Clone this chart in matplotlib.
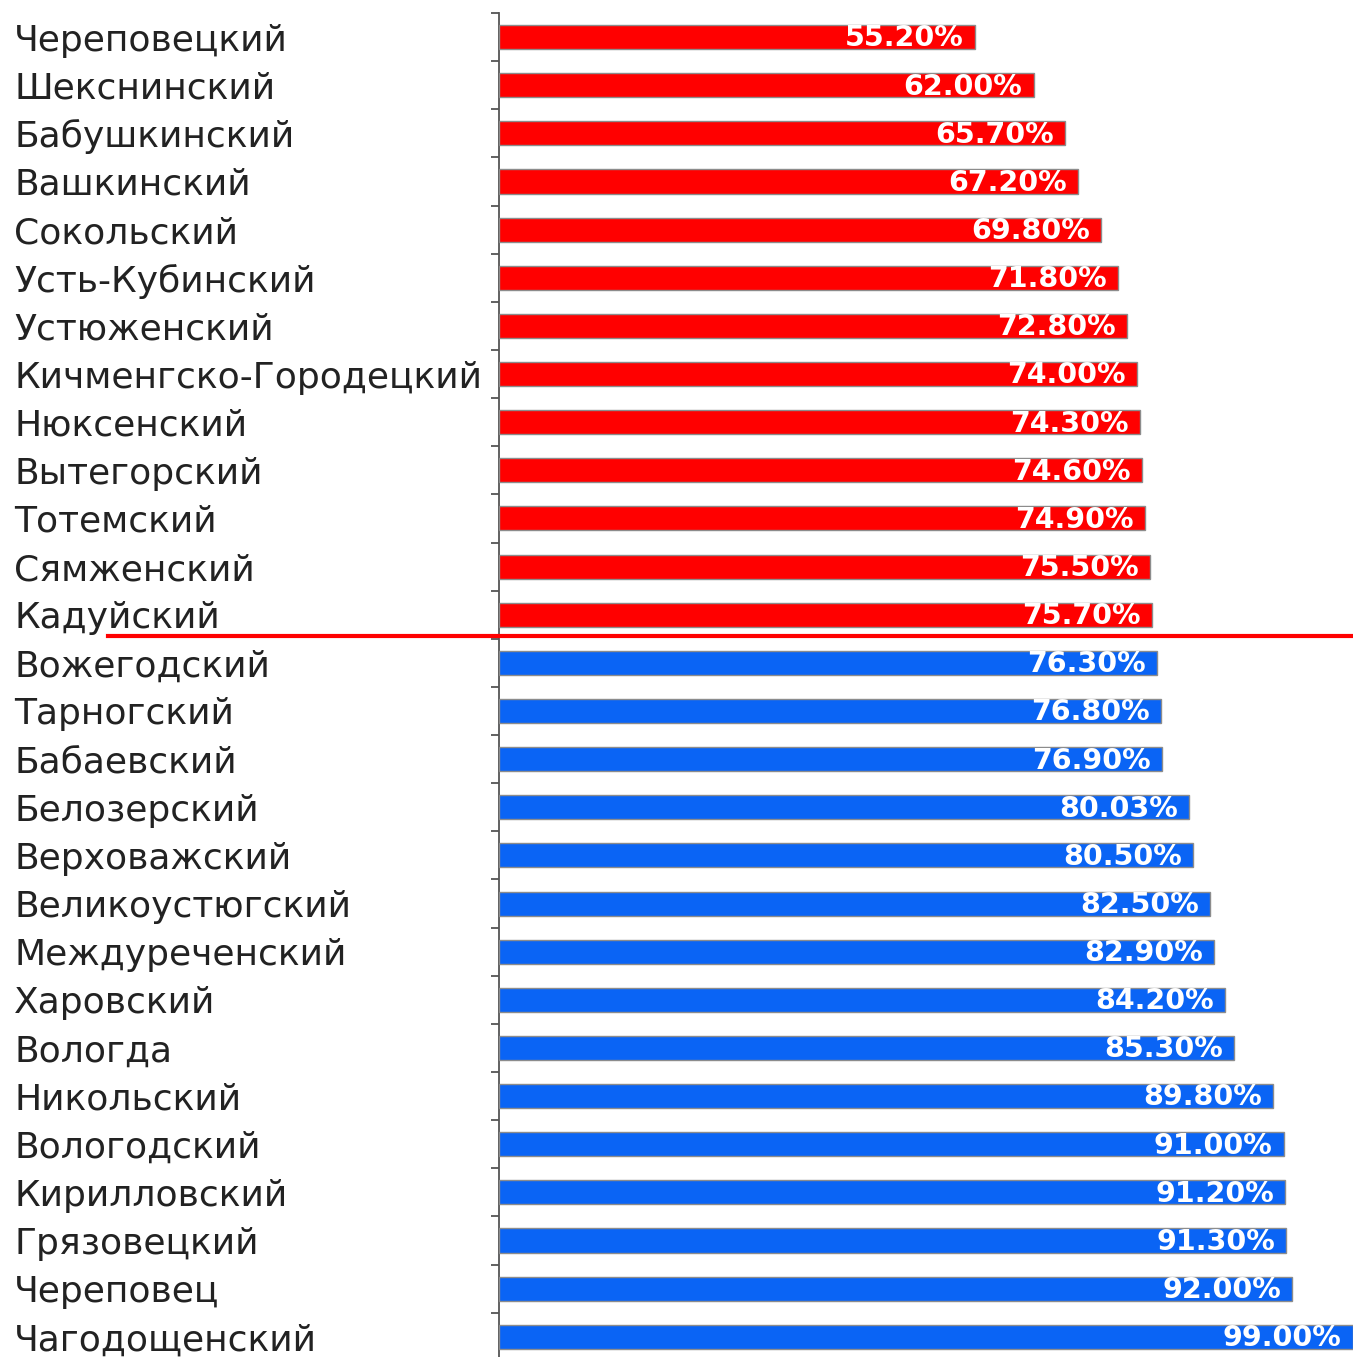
import matplotlib
matplotlib.use("Agg")
import matplotlib.pyplot as plt
from matplotlib.transforms import blended_transform_factory

categories = [
    "Череповецкий", "Шекснинский", "Бабушкинский", "Вашкинский", "Сокольский",
    "Усть-Кубинский", "Устюженский", "Кичменгско-Городецкий", "Нюксенский",
    "Вытегорский", "Тотемский", "Сямженский", "Кадуйский",
    "Вожегодский", "Тарногский", "Бабаевский", "Белозерский", "Верховажский",
    "Великоустюгский", "Междуреченский", "Харовский", "Вологда", "Никольский",
    "Вологодский", "Кирилловский", "Грязовецкий", "Череповец", "Чагодощенский",
]
values = [
    55.20, 62.00, 65.70, 67.20, 69.80, 71.80, 72.80, 74.00, 74.30, 74.60,
    74.90, 75.50, 75.70,
    76.30, 76.80, 76.90, 80.03, 80.50, 82.50, 82.90, 84.20, 85.30, 89.80,
    91.00, 91.20, 91.30, 92.00, 99.00,
]
labels = ["%.2f%%" % v for v in values]
n_below = 13  # first 13 districts are below the threshold (red)

RED = "#FF0000"
BLUE = "#0A64F5"

W, H = 1353, 1357
fig = plt.figure(figsize=(W / 100, H / 100), dpi=100)
left_px, right_px, top_px, bottom_px = 499, 1353, 13, 1357
ax = fig.add_axes([left_px / W, 1 - bottom_px / H,
                   (right_px - left_px) / W, (bottom_px - top_px) / H])

ypos = list(range(len(categories)))
colors = [RED if i < n_below else BLUE for i in ypos]
ax.barh(ypos, values, height=0.5, color=colors, edgecolor="#8c8c8c",
        linewidth=1.0, zorder=3)

for y, v, lab in zip(ypos, values, labels):
    ax.annotate(lab, xy=(v, y), xytext=(-8, -1), textcoords="offset points",
                ha="right", va="center", color="white", fontsize=20.5,
                fontweight="bold", fontfamily="DejaVu Sans", zorder=4)

ax.set_xlim(0, 99.05)
ax.set_ylim(27.42, -0.5)

# category labels left-aligned at the figure's left edge
ax.set_yticks(ypos)
ax.set_yticklabels(categories, fontsize=26, color="#222222", ha="left",
                   fontfamily="DejaVu Sans")
ax.tick_params(axis="y", which="major", length=0, pad=(left_px - 14) * 0.72)
# minor ticks between rows
ax.set_yticks([i - 0.5 for i in range(len(categories))], minor=True)
ax.tick_params(axis="y", which="minor", length=5.5, width=1.3, color="#555555",
               direction="out")
ax.set_xticks([])

for side in ["top", "right", "bottom"]:
    ax.spines[side].set_visible(False)
ax.spines["left"].set_color("#555555")
ax.spines["left"].set_linewidth(1.3)

# threshold line between red and blue groups
trans = blended_transform_factory(fig.transFigure, ax.transData)
ax.plot([108 / W, 1.0], [12.44, 12.44], transform=trans, color=RED,
        linewidth=3.0, clip_on=False, zorder=5)

fig.savefig("out.png", dpi=100)
